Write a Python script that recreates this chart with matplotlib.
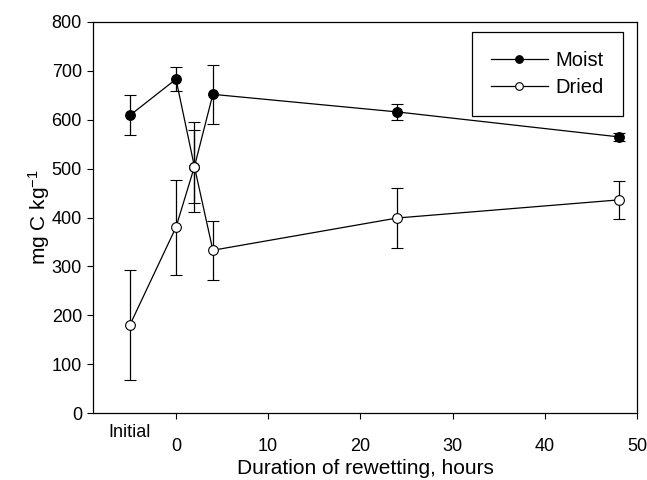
import matplotlib
matplotlib.use("Agg")
import matplotlib.pyplot as plt
from matplotlib.lines import Line2D

plt.rcParams['font.family'] = ['Liberation Sans', 'DejaVu Sans']
plt.rcParams['mathtext.fontset'] = 'custom'
plt.rcParams['mathtext.rm'] = 'Liberation Sans'
plt.rcParams['mathtext.it'] = 'Liberation Sans'

hours = [-5, 0, 2, 4, 24, 48]
moist = [609, 683, 504, 652, 616, 565]
moist_err = [41, 24, 92, 61, 16, 8]
dried = [180, 380, 504, 333, 399, 436]
dried_err = [113, 97, 75, 60, 61, 39]
xticks = [0, 10, 20, 30, 40, 50]
yticks = [0, 100, 200, 300, 400, 500, 600, 700, 800]

fig = plt.figure(figsize=(6.47, 4.8), dpi=100)
ax = fig.add_axes([93/647, 1-413/480, (637-93)/647, (413-22)/480])

lw = 0.9
ax.errorbar(hours, moist, yerr=moist_err, color='black', lw=lw, elinewidth=lw,
            capsize=4.5, capthick=lw, marker='o', ms=7, mfc='black', mec='black',
            mew=0.8, zorder=3)
ax.errorbar(hours, dried, yerr=dried_err, color='black', lw=lw, elinewidth=lw,
            capsize=4.5, capthick=lw, marker='o', ms=7, mfc='white', mec='black',
            mew=0.8, zorder=4)

ax.set_xlim(-9, 50)
ax.set_ylim(0, 800)
ax.set_xticks(xticks)
ax.set_yticks(yticks)
ax.tick_params(axis='x', direction='out', length=4, width=0.8, pad=14, labelsize=13)
ax.tick_params(axis='y', direction='out', length=4, width=0.8, pad=4, labelsize=13)
for s in ax.spines.values():
    s.set_linewidth(0.9)

ax.text(-5, -0.027, 'Initial', transform=ax.get_xaxis_transform(),
        ha='center', va='top', fontsize=13)

ax.set_xlabel('Duration of rewetting, hours', fontsize=15, labelpad=3)
ax.set_ylabel('mg C kg$^{\\mathregular{-1}}$', fontsize=15, labelpad=0)

handles = [
    Line2D([], [], color='black', lw=lw, marker='o', ms=5.5, mfc='black', mec='black', mew=0.8),
    Line2D([], [], color='black', lw=lw, marker='o', ms=5.5, mfc='white', mec='black', mew=0.8),
]
leg = ax.legend(handles, ['Moist', 'Dried'], loc='upper right',
                bbox_to_anchor=(623/647, 1-32/480),
                bbox_transform=fig.transFigure, fontsize=14.5, frameon=True,
                fancybox=False, edgecolor='black', framealpha=1,
                handlelength=2.8, borderpad=0.95, labelspacing=0.4,
                handletextpad=0.4, borderaxespad=0)
leg.get_frame().set_linewidth(0.9)

fig.savefig('out.png', dpi=100)
